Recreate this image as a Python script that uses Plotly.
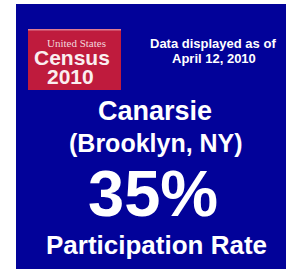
import plotly.graph_objects as go

# ---- data ----
place_name = "Canarsie"
place_area = "(Brooklyn, NY)"
participation_rate = 35  # percent
rate_label = "Participation Rate"
as_of_lines = ["Data displayed as of", "April 12, 2010"]
logo_lines = ["United States", "Census", "2010"]

W, H = 286, 269
BLUE = "#020299"
RED = "#BF1B3D"
FONT = "Liberation Sans, Arial, sans-serif"

fig = go.Figure()

shapes = [
    dict(type="rect", xref="x", yref="y", x0=16, x1=286, y0=4, y1=269,
         fillcolor=BLUE, line=dict(width=0), layer="below"),
    dict(type="rect", xref="x", yref="y", x0=28, x1=121, y0=29, y1=90,
         fillcolor=RED, line=dict(width=0), layer="below"),
    dict(type="rect", xref="x", yref="y", x0=28, x1=121, y0=29, y1=30.5,
         fillcolor="#E07A90", line=dict(width=0), layer="below"),
]

ann = []
def txt(s, x, y, size, family=FONT, color="white", bold=True):
    ann.append(dict(text=(f"<b>{s}</b>" if bold else s), x=x, y=y, xref="x", yref="y",
                    showarrow=False, xanchor="center", yanchor="middle",
                    font=dict(family=family, size=size, color=color)))

# logo
txt(logo_lines[0], 76, 43, 11, family="Liberation Serif, Times New Roman, serif",
    color="#F3D6DC", bold=False)
txt(logo_lines[1], 71.5, 57, 21, color="#FAEEF0")
txt(logo_lines[2], 70, 76, 21, color="#FAEEF0")

# as-of
txt(as_of_lines[0], 212.5, 43.5, 13)
txt(as_of_lines[1], 213.5, 58.5, 13)

# main text
txt(place_name, 155, 111, 27)
txt(place_area, 155.5, 143, 25)
txt(f"{participation_rate}%", 153, 193, 65)
txt(rate_label, 156, 244.5, 26)

fig.update_layout(
    width=W, height=H, margin=dict(l=0, r=0, t=0, b=0),
    paper_bgcolor="white", plot_bgcolor="white",
    xaxis=dict(range=[0, W], visible=False, fixedrange=True),
    yaxis=dict(range=[H, 0], visible=False, fixedrange=True),
    shapes=shapes, annotations=ann, showlegend=False,
)
fig.write_html("out.html", config={"displayModeBar": False},
               post_script="document.body.style.margin='0';document.body.style.overflow='hidden';")
